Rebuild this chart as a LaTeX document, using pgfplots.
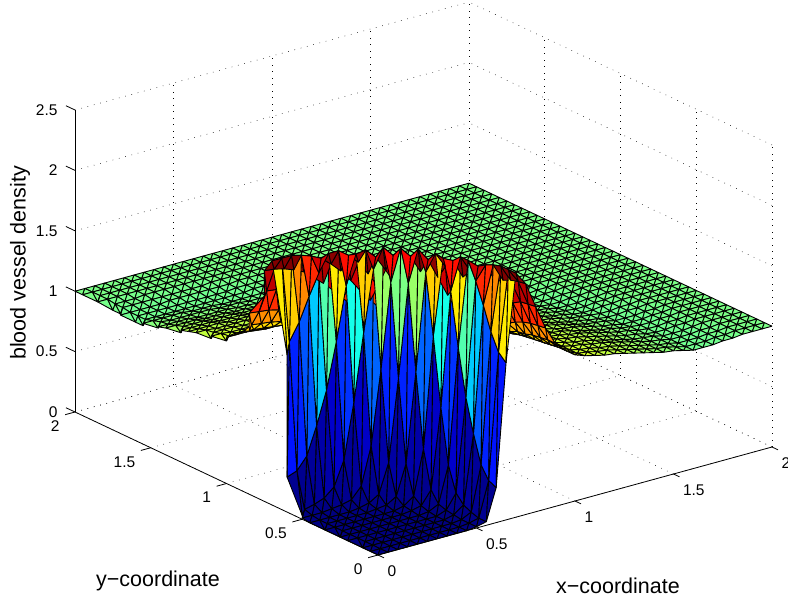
\documentclass[border=0pt]{standalone}
\usepackage{pgfplots}
\usepackage{pgfplotstable}
\usepackage{fontspec}
\setmainfont{Liberation Sans}
\pgfplotsset{compat=1.18}
\pgfplotstableread[row sep=\\,header=false]{
0\\0\\0\\0\\0\\0\\0\\0\\0\\0\\.01\\.03\\.29\\1.3\\2.02\\1.91\\1.7\\1.5\\1.35\\1.27\\1.21\\1.18\\1.16\\1.14\\1.13\\1.11\\1.09\\1.07\\1.05\\1.03\\1.02\\1\\.98\\.98\\.98\\.99\\.99\\1\\1\\1\\1\\
0\\0\\0\\0\\0\\0\\0\\0\\0\\0\\.01\\.03\\.32\\1.36\\2.02\\1.9\\1.69\\1.49\\1.35\\1.27\\1.21\\1.17\\1.16\\1.14\\1.13\\1.11\\1.09\\1.07\\1.05\\1.03\\1.02\\1\\.98\\.98\\.98\\.99\\.99\\1\\1\\1\\1\\
0\\0\\0\\0\\0\\0\\0\\0\\0\\0\\.01\\.05\\.42\\1.5\\2.02\\1.88\\1.68\\1.48\\1.34\\1.26\\1.21\\1.17\\1.15\\1.14\\1.12\\1.11\\1.09\\1.07\\1.05\\1.03\\1.01\\1\\.98\\.98\\.98\\.99\\.99\\1\\1\\1\\1\\
0\\0\\0\\0\\0\\0\\0\\0\\0\\0\\.02\\.08\\.65\\1.69\\2\\1.85\\1.64\\1.46\\1.33\\1.25\\1.2\\1.17\\1.15\\1.14\\1.12\\1.11\\1.09\\1.07\\1.05\\1.03\\1.01\\1\\.98\\.98\\.98\\.99\\.99\\1\\1\\1\\1\\
0\\0\\0\\0\\0\\0\\0\\0\\0\\0\\.03\\.15\\.92\\1.86\\1.97\\1.81\\1.6\\1.43\\1.31\\1.24\\1.19\\1.17\\1.15\\1.13\\1.12\\1.1\\1.08\\1.06\\1.04\\1.02\\1.01\\1\\.98\\.98\\.98\\.99\\1\\1\\1\\1\\1\\
0\\0\\0\\0\\0\\0\\0\\0\\0\\.01\\.05\\.35\\1.3\\2\\1.93\\1.74\\1.55\\1.39\\1.3\\1.23\\1.19\\1.16\\1.15\\1.13\\1.12\\1.1\\1.08\\1.06\\1.04\\1.02\\1.01\\.99\\.98\\.98\\.99\\.99\\1\\1\\1\\1\\1\\
0\\0\\0\\0\\0\\0\\0\\0\\.01\\.03\\.14\\.8\\1.74\\2\\1.86\\1.67\\1.49\\1.35\\1.27\\1.22\\1.18\\1.16\\1.14\\1.13\\1.11\\1.1\\1.08\\1.06\\1.04\\1.02\\1.01\\.99\\.98\\.98\\.99\\.99\\1\\1\\1\\1\\1\\
0\\0\\0\\0\\0\\0\\0\\0\\.02\\.08\\.45\\1.36\\1.98\\1.94\\1.78\\1.59\\1.43\\1.32\\1.25\\1.2\\1.17\\1.15\\1.14\\1.12\\1.11\\1.09\\1.07\\1.05\\1.03\\1.02\\1\\.99\\.98\\.98\\.99\\.99\\1\\1\\1\\1\\1\\
0\\0\\0\\0\\0\\0\\.01\\.02\\.07\\.32\\1.06\\1.86\\1.99\\1.86\\1.68\\1.5\\1.37\\1.29\\1.23\\1.19\\1.16\\1.15\\1.13\\1.12\\1.1\\1.08\\1.07\\1.05\\1.03\\1.01\\1\\.98\\.98\\.98\\.99\\.99\\1\\1\\1\\1\\1\\
0\\0\\0\\0\\0\\.01\\.03\\.08\\.32\\1\\1.76\\2.02\\1.91\\1.74\\1.57\\1.42\\1.32\\1.25\\1.2\\1.17\\1.16\\1.14\\1.13\\1.11\\1.1\\1.08\\1.06\\1.04\\1.02\\1.01\\1\\.98\\.98\\.98\\.99\\.99\\1\\1\\1\\1\\1\\
.01\\.01\\.01\\.02\\.03\\.05\\.14\\.45\\1.06\\1.76\\2.02\\1.93\\1.78\\1.62\\1.47\\1.35\\1.28\\1.23\\1.19\\1.17\\1.15\\1.14\\1.12\\1.11\\1.09\\1.07\\1.05\\1.03\\1.02\\1\\.99\\.98\\.98\\.99\\.99\\1\\1\\1\\1\\1\\1\\
.03\\.03\\.05\\.08\\.15\\.35\\.8\\1.36\\1.86\\2.02\\1.93\\1.8\\1.64\\1.49\\1.38\\1.3\\1.24\\1.2\\1.17\\1.16\\1.14\\1.13\\1.12\\1.1\\1.08\\1.06\\1.05\\1.03\\1.01\\1\\.99\\.98\\.98\\.99\\.99\\1\\1\\1\\1\\1\\1\\
.29\\.32\\.42\\.65\\.92\\1.3\\1.74\\1.98\\1.99\\1.91\\1.78\\1.64\\1.51\\1.39\\1.31\\1.26\\1.21\\1.18\\1.16\\1.15\\1.13\\1.12\\1.11\\1.09\\1.07\\1.06\\1.04\\1.02\\1.01\\.99\\.98\\.98\\.99\\.99\\1\\1\\1\\1\\1\\1\\1\\
1.3\\1.36\\1.5\\1.69\\1.86\\2\\2\\1.94\\1.86\\1.74\\1.62\\1.49\\1.39\\1.32\\1.26\\1.22\\1.19\\1.17\\1.15\\1.14\\1.13\\1.11\\1.1\\1.08\\1.06\\1.05\\1.03\\1.02\\1\\.99\\.98\\.98\\.99\\.99\\1\\1\\1\\1\\1\\1\\1\\
2.02\\2.02\\2.02\\2\\1.97\\1.93\\1.86\\1.78\\1.68\\1.57\\1.47\\1.38\\1.31\\1.26\\1.22\\1.19\\1.17\\1.15\\1.14\\1.12\\1.12\\1.11\\1.09\\1.07\\1.05\\1.04\\1.02\\1.01\\1\\.98\\.98\\.98\\.99\\.99\\1\\1\\1\\1\\1\\1\\1\\
1.91\\1.9\\1.88\\1.85\\1.81\\1.74\\1.67\\1.59\\1.5\\1.42\\1.35\\1.3\\1.26\\1.22\\1.19\\1.17\\1.16\\1.14\\1.13\\1.12\\1.11\\1.09\\1.08\\1.06\\1.04\\1.03\\1.01\\1\\.99\\.98\\.98\\.99\\.99\\1\\1\\1\\1\\1\\1\\1\\1\\
1.7\\1.69\\1.68\\1.64\\1.6\\1.55\\1.49\\1.43\\1.37\\1.32\\1.28\\1.24\\1.21\\1.19\\1.17\\1.16\\1.14\\1.13\\1.12\\1.11\\1.1\\1.08\\1.07\\1.05\\1.03\\1.02\\1.01\\.99\\.98\\.98\\.98\\.99\\.99\\1\\1\\1\\1\\1\\1\\1\\1\\
1.5\\1.49\\1.48\\1.46\\1.43\\1.39\\1.35\\1.32\\1.29\\1.25\\1.23\\1.2\\1.18\\1.17\\1.15\\1.14\\1.13\\1.12\\1.11\\1.1\\1.08\\1.07\\1.05\\1.04\\1.02\\1.01\\1\\.99\\.98\\.98\\.99\\.99\\1\\1\\1\\1\\1\\1\\1\\1\\1\\
1.35\\1.35\\1.34\\1.33\\1.31\\1.3\\1.27\\1.25\\1.23\\1.2\\1.19\\1.17\\1.16\\1.15\\1.14\\1.13\\1.12\\1.11\\1.1\\1.09\\1.07\\1.06\\1.04\\1.03\\1.02\\1\\.99\\.98\\.98\\.98\\.99\\.99\\1\\1\\1\\1\\1\\1\\1\\1\\1\\
1.27\\1.27\\1.26\\1.25\\1.24\\1.23\\1.22\\1.2\\1.19\\1.17\\1.17\\1.16\\1.15\\1.14\\1.12\\1.12\\1.11\\1.1\\1.09\\1.07\\1.06\\1.04\\1.03\\1.02\\1\\.99\\.98\\.98\\.98\\.99\\.99\\1\\1\\1\\1\\1\\1\\1\\1\\1\\1\\
1.21\\1.21\\1.21\\1.2\\1.19\\1.19\\1.18\\1.17\\1.16\\1.16\\1.15\\1.14\\1.13\\1.13\\1.12\\1.11\\1.1\\1.08\\1.07\\1.06\\1.04\\1.03\\1.02\\1.01\\1\\.98\\.98\\.98\\.99\\.99\\1\\1\\1\\1\\1\\1\\1\\1\\1\\1\\1\\
1.18\\1.17\\1.17\\1.17\\1.17\\1.16\\1.16\\1.15\\1.15\\1.14\\1.14\\1.13\\1.12\\1.11\\1.11\\1.09\\1.08\\1.07\\1.06\\1.04\\1.03\\1.02\\1.01\\1\\.99\\.98\\.98\\.98\\.99\\.99\\1\\1\\1\\1\\1\\1\\1\\1\\1\\1\\1\\
1.16\\1.16\\1.15\\1.15\\1.15\\1.15\\1.14\\1.14\\1.13\\1.13\\1.12\\1.12\\1.11\\1.1\\1.09\\1.08\\1.07\\1.05\\1.04\\1.03\\1.02\\1.01\\1\\.99\\.98\\.98\\.98\\.99\\.99\\1\\1\\1\\1\\1\\1\\1\\1\\1\\1\\1\\1\\
1.14\\1.14\\1.14\\1.14\\1.13\\1.13\\1.13\\1.12\\1.12\\1.11\\1.11\\1.1\\1.09\\1.08\\1.07\\1.06\\1.05\\1.04\\1.03\\1.02\\1.01\\1\\.99\\.98\\.98\\.98\\.99\\.99\\1\\1\\1\\1\\1\\1\\1\\1\\1\\1\\1\\1\\1\\
1.13\\1.13\\1.12\\1.12\\1.12\\1.12\\1.11\\1.11\\1.1\\1.1\\1.09\\1.08\\1.07\\1.06\\1.05\\1.04\\1.03\\1.02\\1.02\\1\\1\\.99\\.98\\.98\\.98\\.99\\.99\\1\\1\\1\\1\\1\\1\\1\\1\\1\\1\\1\\1\\1\\1\\
1.11\\1.11\\1.11\\1.11\\1.1\\1.1\\1.1\\1.09\\1.08\\1.08\\1.07\\1.06\\1.06\\1.05\\1.04\\1.03\\1.02\\1.01\\1\\.99\\.98\\.98\\.98\\.98\\.99\\.99\\1\\1\\1\\1\\1\\1\\1\\1\\1\\1\\1\\1\\1\\1\\1\\
1.09\\1.09\\1.09\\1.09\\1.08\\1.08\\1.08\\1.07\\1.07\\1.06\\1.05\\1.05\\1.04\\1.03\\1.02\\1.01\\1.01\\1\\.99\\.98\\.98\\.98\\.98\\.99\\.99\\1\\1\\1\\1\\1\\1\\1\\1\\1\\1\\1\\1\\1\\1\\1\\1\\
1.07\\1.07\\1.07\\1.07\\1.06\\1.06\\1.06\\1.05\\1.05\\1.04\\1.03\\1.03\\1.02\\1.02\\1.01\\1\\.99\\.99\\.98\\.98\\.98\\.98\\.99\\.99\\1\\1\\1\\1\\1\\1\\1\\1\\1\\1\\1\\1\\1\\1\\1\\1\\1\\
1.05\\1.05\\1.05\\1.05\\1.04\\1.04\\1.04\\1.03\\1.03\\1.02\\1.02\\1.01\\1.01\\1\\1\\.99\\.98\\.98\\.98\\.98\\.99\\.99\\.99\\1\\1\\1\\1\\1\\1\\1\\1\\1\\1\\1\\1\\1\\1\\1\\1\\1\\1\\
1.03\\1.03\\1.03\\1.03\\1.02\\1.02\\1.02\\1.02\\1.01\\1.01\\1\\1\\.99\\.99\\.98\\.98\\.98\\.98\\.98\\.99\\.99\\.99\\1\\1\\1\\1\\1\\1\\1\\1\\1\\1\\1\\1\\1\\1\\1\\1\\1\\1\\1\\
1.02\\1.02\\1.01\\1.01\\1.01\\1.01\\1.01\\1\\1\\1\\.99\\.99\\.98\\.98\\.98\\.98\\.98\\.99\\.99\\.99\\1\\1\\1\\1\\1\\1\\1\\1\\1\\1\\1\\1\\1\\1\\1\\1\\1\\1\\1\\1\\1\\
1\\1\\1\\1\\1\\.99\\.99\\.99\\.98\\.98\\.98\\.98\\.98\\.98\\.98\\.99\\.99\\.99\\.99\\1\\1\\1\\1\\1\\1\\1\\1\\1\\1\\1\\1\\1\\1\\1\\1\\1\\1\\1\\1\\1\\1\\
.98\\.98\\.98\\.98\\.98\\.98\\.98\\.98\\.98\\.98\\.98\\.98\\.99\\.99\\.99\\.99\\.99\\1\\1\\1\\1\\1\\1\\1\\1\\1\\1\\1\\1\\1\\1\\1\\1\\1\\1\\1\\1\\1\\1\\1\\1\\
.98\\.98\\.98\\.98\\.98\\.98\\.98\\.98\\.98\\.98\\.98\\.99\\.99\\.99\\.99\\1\\1\\1\\1\\1\\1\\1\\1\\1\\1\\1\\1\\1\\1\\1\\1\\1\\1\\1\\1\\1\\1\\1\\1\\1\\1\\
.98\\.98\\.98\\.98\\.98\\.99\\.99\\.99\\.99\\.99\\.99\\.99\\1\\1\\1\\1\\1\\1\\1\\1\\1\\1\\1\\1\\1\\1\\1\\1\\1\\1\\1\\1\\1\\1\\1\\1\\1\\1\\1\\1\\1\\
.99\\.99\\.99\\.99\\.99\\.99\\.99\\.99\\.99\\.99\\1\\1\\1\\1\\1\\1\\1\\1\\1\\1\\1\\1\\1\\1\\1\\1\\1\\1\\1\\1\\1\\1\\1\\1\\1\\1\\1\\1\\1\\1\\1\\
.99\\.99\\.99\\.99\\1\\1\\1\\1\\1\\1\\1\\1\\1\\1\\1\\1\\1\\1\\1\\1\\1\\1\\1\\1\\1\\1\\1\\1\\1\\1\\1\\1\\1\\1\\1\\1\\1\\1\\1\\1\\1\\
1\\1\\1\\1\\1\\1\\1\\1\\1\\1\\1\\1\\1\\1\\1\\1\\1\\1\\1\\1\\1\\1\\1\\1\\1\\1\\1\\1\\1\\1\\1\\1\\1\\1\\1\\1\\1\\1\\1\\1\\1\\
1\\1\\1\\1\\1\\1\\1\\1\\1\\1\\1\\1\\1\\1\\1\\1\\1\\1\\1\\1\\1\\1\\1\\1\\1\\1\\1\\1\\1\\1\\1\\1\\1\\1\\1\\1\\1\\1\\1\\1\\1\\
1\\1\\1\\1\\1\\1\\1\\1\\1\\1\\1\\1\\1\\1\\1\\1\\1\\1\\1\\1\\1\\1\\1\\1\\1\\1\\1\\1\\1\\1\\1\\1\\1\\1\\1\\1\\1\\1\\1\\1\\1\\
1\\1\\1\\1\\1\\1\\1\\1\\1\\1\\1\\1\\1\\1\\1\\1\\1\\1\\1\\1\\1\\1\\1\\1\\1\\1\\1\\1\\1\\1\\1\\1\\1\\1\\1\\1\\1\\1\\1\\1\\1\\
}\zdata
\pgfplotstableforeachcolumnelement{[index]0}\of\zdata\as\val{%
 \expandafter\xdef\csname zz\pgfplotstablerow\endcsname{\val}}
\newcommand\buildconn[2]{%
\gdef\conn{}%
\foreach \j in {#2}{\foreach \i in {39,38,...,0}{%
 \edef\a{\the\numexpr\j*41+\i\relax}%
 \edef\b{\the\numexpr\a+1\relax}%
 \edef\c{\the\numexpr\a+41\relax}%
 \edef\d{\the\numexpr\a+42\relax}%
 \edef\n{\csname zz\a\endcsname}%
 \xdef\conn{\unexpanded\expandafter{\conn}\a\space\d\space\c\space\n\noexpand\\ \a\space\b\space\d\space\n\noexpand\\ }%
}}%
\global\expandafter\let\csname #1\endcsname\conn}
\buildconn{connA}{39,38,37,36,35}
\buildconn{connB}{34,33,32,31,30}
\buildconn{connC}{29,28,27,26,25}
\buildconn{connD}{24,23,22,21,20}
\buildconn{connE}{19,18,17,16,15}
\buildconn{connF}{14,13,12,11,10}
\buildconn{connG}{9,8,7,6,5}
\buildconn{connH}{4,3,2,1,0}
\newcommand\band[1]{\addplot3[patch,shader=faceted,faceted color=black,line width=0.9pt,forget plot,
 table/row sep=\\,patch table with point meta/.expand once={#1}]
 table[x index=0,y index=0,z index=0,x expr={mod(\coordindex,41)*0.05},y expr={floor(\coordindex/41)*0.05}]{\zdata};}
\begin{document}
\begin{tikzpicture}
\path[use as bounding box] (0pt,0pt) rectangle (788pt,599pt);
\begin{axis}[
 at={(378pt,44pt)},anchor=origin,
 x={(197pt,54pt)},y={(-151.5pt,71.5pt)},z={(0pt,120.8pt)},
 xmin=0,xmax=2,ymin=0,ymax=2,zmin=0,zmax=2.5,
 xtick={0,0.5,1,1.5,2},ytick={0,0.5,1,1.5,2},ztick={0,0.5,1,1.5,2,2.5},
 xticklabels={0,0.5,1,1.5,2},yticklabels={0,0.5,1,1.5,2},zticklabels={0,0.5,1,1.5,2,2.5},
 major tick length=0pt,
 grid=major,
 grid style={black,line width=0.5pt,dash pattern=on 0.7pt off 5.8pt},
 axis line style={draw=none},
 clip=false,
 tick label style={font=\fontsize{15.5}{18}\selectfont},
 xticklabel style={anchor=west,xshift=6pt,yshift=-16pt},
 yticklabel style={anchor=east,xshift=-12pt,yshift=-14pt},
 zticklabel style={anchor=east,xshift=-14pt,yshift=0pt},
 every axis x label/.style={at={(axis cs:0.539,-0.883,0)},anchor=center,yshift=3pt,font=\fontsize{21.5}{24}\selectfont},
 every axis y label/.style={at={(axis cs:-0.883,0.304,0)},anchor=center,font=\fontsize{21.5}{24}\selectfont},
 every axis z label/.style={at={(axis cs:-1.817,0,3.23)},anchor=center,rotate=90,font=\fontsize{21.5}{24}\selectfont},
 xlabel={x−coordinate},ylabel={y−coordinate},zlabel={blood vessel density},
 colormap={myjet}{rgb255=(0,0,128) rgb255=(0,0,255) rgb255=(0,128,255) rgb255=(0,255,255) rgb255=(128,255,128) rgb255=(255,255,0) rgb255=(255,128,0) rgb255=(255,0,0) rgb255=(128,0,0)},
 point meta min=0,point meta max=2.02,
]
\band{\connA}
\band{\connB}
\band{\connC}
\band{\connD}
\band{\connE}
\band{\connF}
\band{\connG}
\band{\connH}
\draw[black,line width=0.8pt] (axis cs:0,0,0)--(axis cs:2,0,0);
\draw[black,line width=0.8pt] (axis cs:0,0,0)--(axis cs:0,2,0);
\draw[black,line width=0.8pt] (axis cs:0,2,0)--(axis cs:0,2,2.5);
\draw[black,line width=0.8pt] (axis cs:0,0,0)--(axis cs:0,-0.04,0) (axis cs:0.5,0,0)--(axis cs:0.5,-0.04,0) (axis cs:1,0,0)--(axis cs:1,-0.04,0) (axis cs:1.5,0,0)--(axis cs:1.5,-0.04,0) (axis cs:2,0,0)--(axis cs:2,-0.04,0);
\draw[black,line width=0.8pt] (axis cs:0,0,0)--(axis cs:-0.05,0,0) (axis cs:0,0.5,0)--(axis cs:-0.05,0.5,0) (axis cs:0,1,0)--(axis cs:-0.05,1,0) (axis cs:0,1.5,0)--(axis cs:-0.05,1.5,0) (axis cs:0,2,0)--(axis cs:-0.05,2,0);
\draw[black,line width=0.8pt] (axis cs:0,2,0)--(axis cs:0,2.06,0) (axis cs:0,2,0.5)--(axis cs:0,2.06,0.5) (axis cs:0,2,1)--(axis cs:0,2.06,1) (axis cs:0,2,1.5)--(axis cs:0,2.06,1.5) (axis cs:0,2,2)--(axis cs:0,2.06,2) (axis cs:0,2,2.5)--(axis cs:0,2.06,2.5);
\end{axis}
\end{tikzpicture}
\end{document}
